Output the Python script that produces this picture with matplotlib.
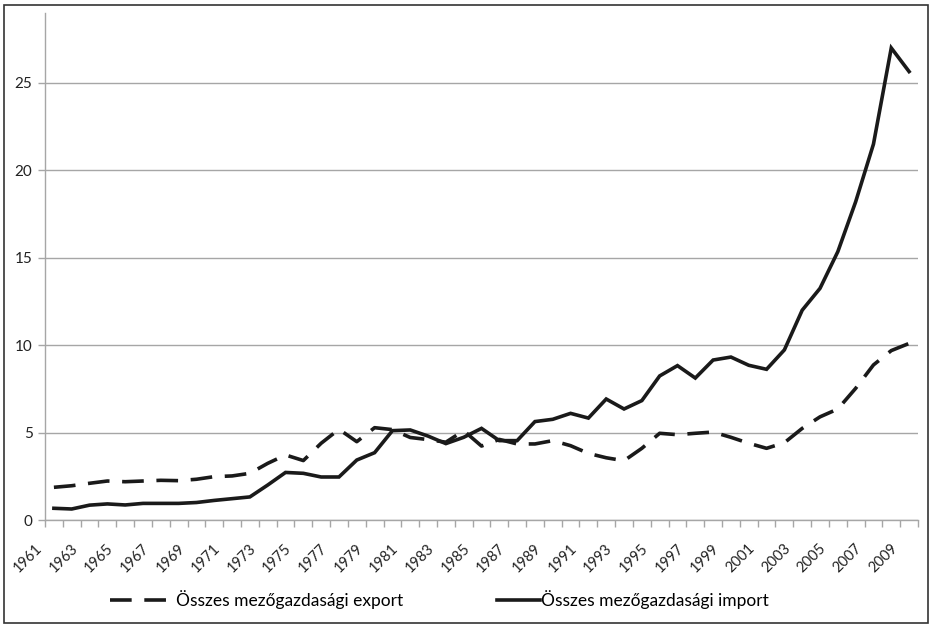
import matplotlib
matplotlib.use("Agg")
import matplotlib.pyplot as plt
from matplotlib.patches import Rectangle
from matplotlib.transforms import ScaledTranslation, blended_transform_factory
import numpy as np

years = list(range(1961, 2010))
export_vals = [1.87, 1.96, 2.10, 2.23, 2.19, 2.23, 2.27, 2.25, 2.33, 2.48,
               2.52, 2.67, 3.24, 3.72, 3.40, 4.39, 5.19, 4.48, 5.28, 5.17,
               4.72, 4.60, 4.45, 5.11, 4.23, 4.61, 4.35, 4.35, 4.54, 4.25,
               3.81, 3.56, 3.39, 4.10, 4.96, 4.88, 4.96, 5.03, 4.73, 4.39,
               4.10, 4.42, 5.24, 5.90, 6.35, 7.53, 8.87, 9.69, 10.1]
import_vals = [0.67, 0.63, 0.85, 0.92, 0.86, 0.95, 0.95, 0.95, 1.00, 1.12,
               1.22, 1.32, 2.00, 2.72, 2.67, 2.46, 2.46, 3.43, 3.85, 5.11,
               5.15, 4.80, 4.37, 4.73, 5.24, 4.54, 4.54, 5.63, 5.76, 6.10,
               5.83, 6.92, 6.35, 6.83, 8.24, 8.83, 8.12, 9.15, 9.32, 8.85,
               8.62, 9.73, 12.0, 13.25, 15.35, 18.2, 21.5, 27.0, 25.65]
export_label = "Összes mezőgazdasági export"
import_label = "Összes mezőgazdasági import"
y_ticks = [0, 5, 10, 15, 20, 25]

plt.rcParams['font.family'] = ['Lato', 'DejaVu Sans']

fig = plt.figure(figsize=(9.32, 6.24), dpi=100)
ax = fig.add_axes([45/932, 1 - 520/624, (918 - 45)/932, (520 - 13)/624])

x = np.arange(len(years))
l_exp, = ax.plot(x, export_vals, color='#1a1a1a', lw=2.6, dashes=(6, 3.5),
                 label=export_label, solid_joinstyle='miter')
l_imp, = ax.plot(x, import_vals, color='#1a1a1a', lw=2.6, label=import_label,
                 solid_joinstyle='miter')

ax.set_xlim(-0.5, len(years) - 0.5)
ax.set_ylim(0, 29)

ax.set_yticks(y_ticks)
ax.set_yticklabels([str(v) for v in y_ticks], fontsize=11, color='#222222')
ax.yaxis.grid(True, color='#a6a6a6', lw=1)
ax.set_axisbelow(True)

# category axis: tick marks between categories, rotated labels every 2 years
ax.set_xticks(np.arange(len(years) + 1) - 0.5)
ax.set_xticklabels([])
ax.tick_params(axis='x', length=5, color='#a6a6a6', width=1)
ax.tick_params(axis='y', length=5, color='#a6a6a6', width=1, pad=4)

trans = blended_transform_factory(ax.transData, ax.transAxes) + \
    ScaledTranslation(-9/100, -21/100, fig.dpi_scale_trans)
for i in x[::2]:
    ax.text(i, 0, str(years[i]), transform=trans, rotation=45, ha='right',
            va='top', fontsize=10.5, color='#222222', clip_on=False)

for s in ['top', 'right']:
    ax.spines[s].set_visible(False)
for s in ['left', 'bottom']:
    ax.spines[s].set_color('#a6a6a6')
    ax.spines[s].set_linewidth(1)

leg1 = fig.legend(handles=[l_exp], loc='center left',
                  bbox_to_anchor=(110/932, 1 - 600/624), frameon=False,
                  fontsize=12.5, handlelength=3.75, handletextpad=0.05,
                  borderaxespad=0, borderpad=0)
leg2 = fig.legend(handles=[l_imp], loc='center left',
                  bbox_to_anchor=(497/932, 1 - 600/624), frameon=False,
                  fontsize=12.5, handlelength=2.5, handletextpad=0.05,
                  borderaxespad=0, borderpad=0)

fig.patches.append(Rectangle((0.004, 0.002), 0.992, 0.99, transform=fig.transFigure,
                             fill=False, edgecolor='#333333', lw=1.2))

fig.savefig("out.png", dpi=100)
